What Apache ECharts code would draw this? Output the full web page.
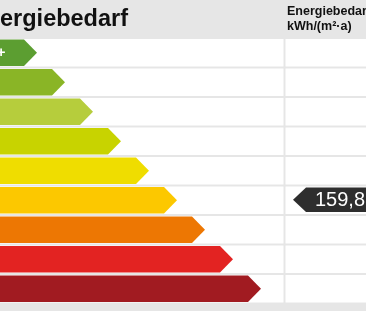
<!DOCTYPE html>
<html><head><meta charset="utf-8">
<script src="https://cdn.jsdelivr.net/npm/echarts@6/dist/echarts.min.js"></script>
<style>html,body{margin:0;padding:0;background:#e6e6e6;overflow:hidden}#c{width:366px;height:311px}</style>
</head><body><div id="c"></div>
<script>
// ---- data ----
const classes = ['A+', 'A', 'B', 'C', 'D', 'E', 'F', 'G', 'H'];
const classSteps = [1, 2, 3, 4, 5, 6, 7, 8, 9];
const classColors = ['#5c9e31', '#8ab526', '#b6cd3c', '#c8d300', '#efdd00', '#fcc800', '#ed7703', '#e32322', '#a11b21'];
const titleText = 'Energiebedarf';
const columnTitle = ['Energiebedarf', 'kWh/(m²·a)'];
const pointerValue = 159.8;
const pointerClass = 'E';

// ---- layout ----
const FONT = 'Liberation Sans, Arial, sans-serif';
const dividerOffset = 275.5;   // px from grid left to column divider centre
const tipLen = 13;

const chart = echarts.init(document.getElementById('c'), null, { renderer: 'canvas' });

function renderBar(params, api) {
  const i = params.dataIndex;
  const p = api.coord([api.value(0), i]);
  const band = api.size([0, 1])[1];
  const cs = params.coordSys;
  const top = p[1] - band / 2 + 1;
  const h = band - 2;
  const divX = cs.x + dividerOffset;
  return {
    type: 'group',
    children: [
      { type: 'rect', shape: { x: -40, y: top, width: divX - 1 + 40, height: h }, style: { fill: '#ffffff' } },
      { type: 'rect', shape: { x: divX + 1, y: top, width: 200, height: h }, style: { fill: '#ffffff' } },
      { type: 'polygon', shape: { points: [[-80, top + 0.5], [p[0] - tipLen, top + 0.5], [p[0], top + h / 2], [p[0] - tipLen, top + h - 0.5], [-80, top + h - 0.5]] },
        style: { fill: classColors[i] } },
      { type: 'text', x: -14, y: top + h / 2,
        style: { text: classes[i], fill: '#ffffff', font: 'bold 15px ' + FONT, align: 'left', verticalAlign: 'middle' } }
    ]
  };
}

function renderPointer(params, api) {
  const idx = classes.indexOf(pointerClass);
  const p = api.coord([api.value(0), idx]);
  const cs = params.coordSys;
  const divX = cs.x + dividerOffset;
  const cy = p[1] - 0.5;
  const tx = divX + 8.5;
  const half = 12.2;
  return {
    type: 'group',
    children: [
      { type: 'polygon', shape: { points: [[tx, cy], [tx + 13, cy - half], [tx + 120, cy - half], [tx + 120, cy + half], [tx + 13, cy + half]] },
        style: { fill: '#2e2e2e' } },
      { type: 'text', x: tx + 22, y: cy + 1,
        style: { text: api.value(0).toFixed(1).replace('.', ','), fill: '#ffffff', font: '20px ' + FONT, align: 'left', verticalAlign: 'middle' } }
    ]
  };
}

chart.setOption({
  animation: false,
  backgroundColor: '#e6e6e6',
  grid: { left: 9, right: 0, top: 38, bottom: 7.5 },
  xAxis: { type: 'value', min: 0, max: (366 - 9) / 28, show: false },
  yAxis: { type: 'category', data: classes, inverse: true, show: false },
  graphic: [
    { type: 'text', left: -30, top: 8, style: { text: titleText, fill: '#111', font: 'bold 23.5px ' + FONT } },
    { type: 'text', left: 287, top: 5, style: { text: columnTitle[0], fill: '#111', font: 'bold 12.5px ' + FONT } },
    { type: 'text', left: 287, top: 20, style: { text: columnTitle[1], fill: '#111', font: 'bold 12.5px ' + FONT } }
  ],
  series: [
    { type: 'custom', renderItem: renderBar, clip: false,
      data: classes.map((c, i) => [classSteps[i], c]), encode: { x: 0, y: 1 } },
    { type: 'custom', renderItem: renderPointer, clip: false, z: 5,
      data: [[pointerValue, pointerClass]], encode: { x: 0, y: 1 } }
  ]
});
</script></body></html>
